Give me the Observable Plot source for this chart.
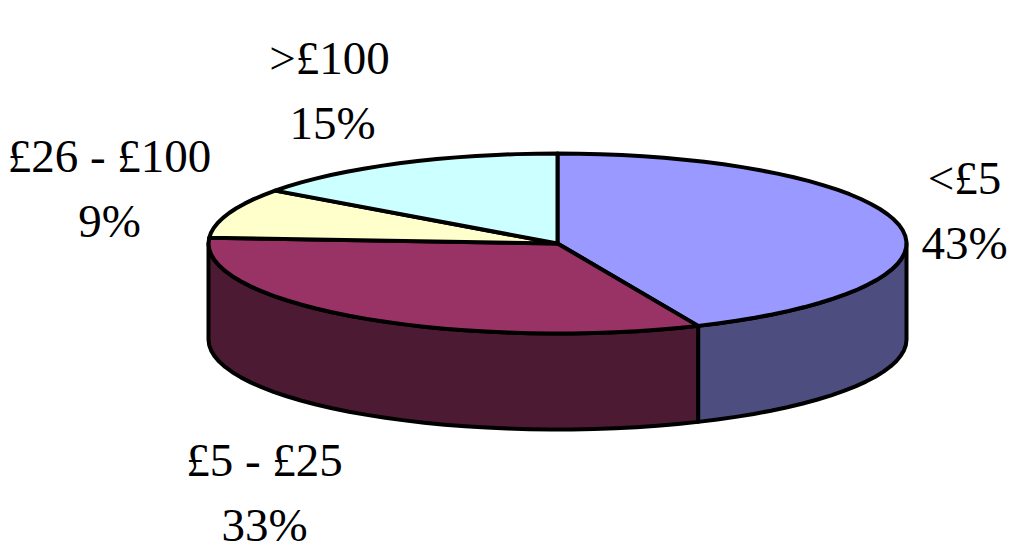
<!DOCTYPE html>
<html><head><meta charset="utf-8">
<script src="https://cdn.jsdelivr.net/npm/d3@7"></script>
<script src="https://cdn.jsdelivr.net/npm/@observablehq/plot@0.6"></script>
<style>html,body{margin:0;padding:0;background:#fff}svg{display:block}</style>
</head><body><div id="chart"></div>
<script>
const categories = ["<£5", "£5 - £25", "£26 - £100", ">£100"];
const shares = [43.4, 32.6, 9, 15];
const topColors = ["#9999ff", "#993366", "#ffffcc", "#ccffff"];
const sideColors = ["#4d4d80", "#4d1a33", "#808066", "#668080"];
const labelX = [964, 264, 109, 329];
const labelY = [178, 460, 156, 58];
const lineGap = 65;

const cx = 557, cy = 243, rx = 349, ry = 90, depth = 96;
const at = (t, dy = 0) => ({x: cx + rx * Math.sin(t), y: cy - ry * Math.cos(t) + dy});
const total = d3.sum(shares);
const cum = d3.cumsum(shares);
const arcs = categories.map((c, i) => ({c, i,
  a0: (i ? cum[i-1] : 0) / total * 2 * Math.PI,
  a1: cum[i] / total * 2 * Math.PI}));
const arcPts = (a0, a1, dy = 0) => {
  const n = Math.max(2, Math.ceil((a1 - a0) * 16));
  return d3.range(n + 1).map(k => at(a0 + (a1 - a0) * k / n, dy));
};

const sides = [], tops = [];
for (const s of arcs) {
  // visible outer wall: the lower half of the ellipse only
  const a0 = Math.max(s.a0, Math.PI / 2), a1 = Math.min(s.a1, 3 * Math.PI / 2);
  if (a1 > a0) {
    const pts = [...arcPts(a0, a1), ...arcPts(a0, a1, depth).reverse()];
    pts.push(pts[0]);
    sides.push(...pts.map(p => ({...p, key: s.c, color: sideColors[s.i]})));
  }
  const pts = [{x: cx, y: cy}, ...arcPts(s.a0, s.a1), {x: cx, y: cy}];
  tops.push(...pts.map(p => ({...p, key: s.c, color: topColors[s.i]})));
}
const labels = categories.flatMap((c, i) => [
  {t: c, x: labelX[i], y: labelY[i]},
  {t: Math.round(shares[i]) + "%", x: labelX[i] + (c === ">£100" ? 3 : 0), y: labelY[i] + lineGap}
]);

const style = {x: "x", y: "y", z: "key", fill: "color", stroke: "#000", strokeWidth: 4, curve: "linear", strokeLinejoin: "round"};
const chart = Plot.plot({
  width: 1024, height: 552, margin: 0,
  x: {domain: [0, 1024], axis: null},
  y: {domain: [552, 0], axis: null},
  marks: [
    Plot.line(sides, style),
    Plot.line(tops, style),
    Plot.text(labels, {x: "x", y: "y", text: "t", fontSize: 47, fontFamily: "Liberation Serif", fill: "#000", textAnchor: "middle"})
  ]
});
document.getElementById("chart").append(chart);
</script></body></html>
